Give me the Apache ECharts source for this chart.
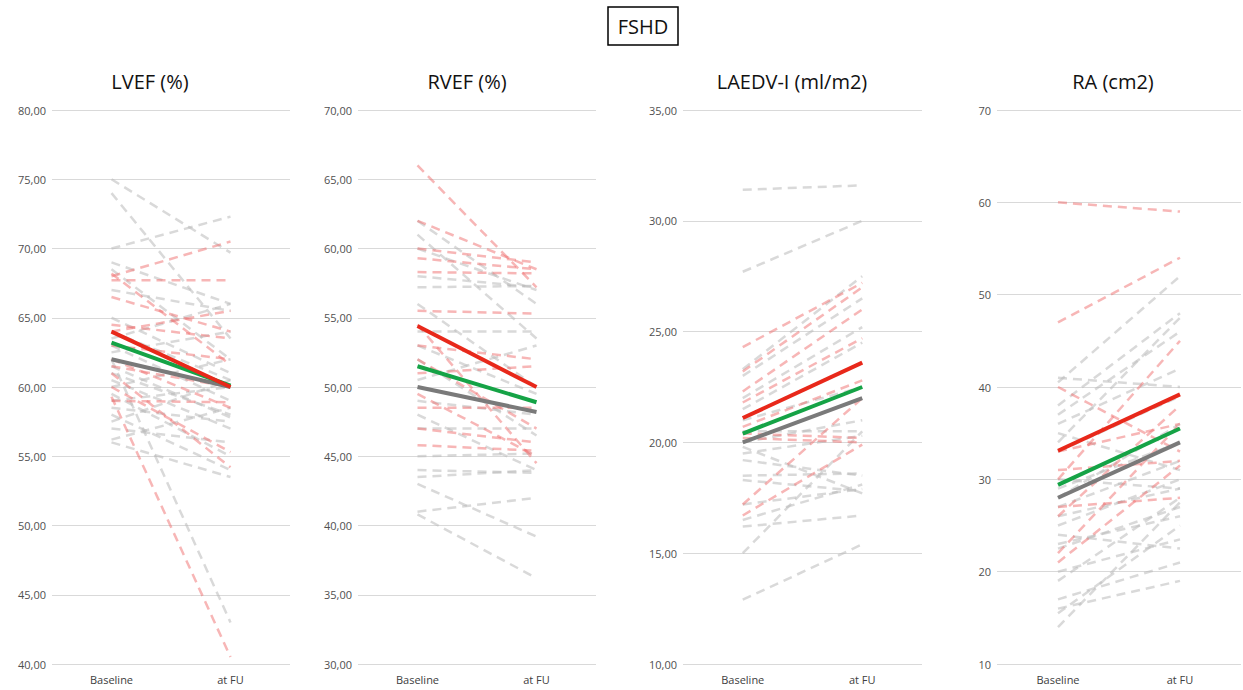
<!DOCTYPE html>
<html>
<head>
<meta charset="utf-8">
<script src="https://cdn.jsdelivr.net/npm/echarts@6/dist/echarts.min.js"></script>
<style>
html,body{margin:0;padding:0;background:#fff;}
#chart{width:1243px;height:690px;}
</style>
</head>
<body>
<div id="chart"></div>
<script>
const categories = ['Baseline', 'at FU'];
const panelTitles = ['LVEF (%)', 'RVEF (%)', 'LAEDV-I (ml/m2)', 'RA (cm2)'];
const mainTitle = 'FSHD';

// LVEF individual patients [Baseline, at FU]
const lvefGray = [[75,69.7],[74,63.5],[70,72.3],[69,66],[68.5,62],[67,65.5],[65,61],[64,60.5],[63.5,66],[63,59],[62,43],[61,58],[60.5,57],[60,62],[59.5,55],[59,60],[58.5,57.5],[58,54],[57.5,60.5],[57,56],[56,53.5],[56.2,58.5],[61.5,57.8],[62.5,64]];
const lvefRed = [[68,70.5],[67.7,67.7],[68.2,61.6],[66.5,64],[64.5,63.5],[63,62],[62,58.5],[61.5,60],[59.3,40.5],[59,58.9],[61,54.2],[60,55.3],[64,65.5]];
const lvefMeanGray = [62.0, 60.0];
const lvefMeanGreen = [63.2, 60.1];
const lvefMeanRed = [64.0, 60.0];

// RVEF
const rvefGray = [[62,56],[61,53.5],[60,57],[58,57.2],[57.2,57.3],[56,50],[54,54],[53,49.5],[52,46.5],[50.5,53],[49,48],[48,44],[47,47],[44,43.8],[43.5,44],[43,39.2],[41,42],[40.8,36.2],[45,45.2]];
const rvefRed = [[66,57.2],[62,58.5],[60,59],[59.3,58.5],[58.3,58.2],[55.5,55.3],[54.5,44.5],[53,52],[52,47],[51,51.5],[49.5,45],[47,46],[45.8,45.4],[48.5,48.5]];
const rvefMeanGray = [50.0, 48.2];
const rvefMeanGreen = [51.5, 48.9];
const rvefMeanRed = [54.4, 50.0];

// LAEDV-I
const laeGray = [[31.4,31.6],[27.7,30],[23.3,27.5],[23,26.5],[22,25.2],[21.5,24.5],[21,22.5],[20.5,20.5],[20,21],[19.5,20.3],[19.2,18.5],[18.5,18.6],[18.3,17.8],[17.2,17.9],[16.5,18.1],[16.2,16.7],[15,20.5],[12.9,15.4],[19.8,17.7]];
const laeRed = [[24.3,27.2],[23.2,27.0],[22.3,26.0],[21.8,24.7],[20.7,22.8],[20.4,20.2],[20.2,20.0],[16.7,19.9],[17.2,22]];
const laeMeanGray = [20.0, 22.0];
const laeMeanGreen = [20.4, 22.5];
const laeMeanRed = [21.1, 23.6];

// RA
const raGray = [[41,40],[40.5,52],[38,48],[37,46],[36,42],[35,31],[34,47.5],[33,39],[30,29],[29,34],[28,36],[27,32],[26,29],[25,30],[24,22.5],[23,26],[22.5,27],[19,28],[17,21],[16,19],[15.5,25],[14,27.5],[20,23.5]];
const raRed = [[60,59],[47,54],[40,33],[31,32],[30,45],[27,28],[26,38],[22,36],[21,31.5],[33,36]];
const raMeanGray = [28.0, 34.0];
const raMeanGreen = [29.4, 35.5];
const raMeanRed = [33.1, 39.2];

const yMins = [40, 30, 10, 10];
const yMaxs = [80, 70, 35, 70];
const yIntervals = [5, 5, 5, 10];
const yDecimals = [2, 2, 2, 0];

const panels = [
  {gray: lvefGray, red: lvefRed, mg: lvefMeanGray, mgr: lvefMeanGreen, mr: lvefMeanRed},
  {gray: rvefGray, red: rvefRed, mg: rvefMeanGray, mgr: rvefMeanGreen, mr: rvefMeanRed},
  {gray: laeGray, red: laeRed, mg: laeMeanGray, mgr: laeMeanGreen, mr: laeMeanRed},
  {gray: raGray, red: raRed, mg: raMeanGray, mgr: raMeanGreen, mr: raMeanRed}
];

const gridLefts = [52, 358, 683, 997];
const gridWidths = [238, 238, 239, 244];
const titleCenters = [145, 462, 787, 1108];

const FONT = '"Open Sans", "Noto Sans", sans-serif';

const grids = [], xAxes = [], yAxes = [], series = [], titles = [];
panels.forEach((p, i) => {
  grids.push({left: gridLefts[i], width: gridWidths[i], top: 110, height: 554});
  xAxes.push({
    type: 'category', gridIndex: i, data: categories, boundaryGap: true,
    axisLine: {show: false}, axisTick: {show: false},
    axisLabel: {color: '#404040', fontSize: 11, fontFamily: FONT, margin: 10}
  });
  yAxes.push({
    type: 'value', gridIndex: i, min: yMins[i], max: yMaxs[i], interval: yIntervals[i],
    axisLine: {show: false}, axisTick: {show: false},
    splitLine: {lineStyle: {color: '#d9d9d9', width: 1}},
    axisLabel: {color: '#505050', fontSize: 11, fontFamily: FONT, margin: 6,
      formatter: v => v.toFixed(yDecimals[i]).replace('.', ',')}
  });
  const dashed = (pair, color) => ({
    type: 'line', xAxisIndex: i, yAxisIndex: i, data: pair, symbol: 'none', silent: true,
    lineStyle: {color: color, width: 2.5, type: [9, 6]}
  });
  p.gray.forEach(pair => series.push(dashed(pair, 'rgba(185,185,185,0.55)')));
  p.red.forEach(pair => series.push(dashed(pair, 'rgba(240,110,110,0.5)')));
  const solid = (pair, color) => ({
    type: 'line', xAxisIndex: i, yAxisIndex: i, data: pair, symbol: 'none', silent: true,
    lineStyle: {color: color, width: 4}
  });
  series.push(solid(p.mg, '#7a7a7a'));
  series.push(solid(p.mgr, '#15a346'));
  series.push(solid(p.mr, '#e8281a'));
  titles.push({
    text: panelTitles[i], left: titleCenters[i], top: 66, textAlign: 'center',
    textStyle: {fontSize: 20, fontWeight: 'normal', color: '#111', fontFamily: FONT}
  });
});
titles.push({
  text: mainTitle, left: 633, top: 7, textAlign: 'center',
  borderColor: '#000', borderWidth: 1.5, padding: [9, 10, 9, 10],
  textStyle: {fontSize: 20, fontWeight: 'normal', color: '#111', fontFamily: FONT}
});

const chart = echarts.init(document.getElementById('chart'), null, {renderer: 'svg'});
chart.setOption({
  animation: false,
  backgroundColor: '#fff',
  title: titles,
  grid: grids,
  xAxis: xAxes,
  yAxis: yAxes,
  series: series
});
</script>
</body>
</html>
